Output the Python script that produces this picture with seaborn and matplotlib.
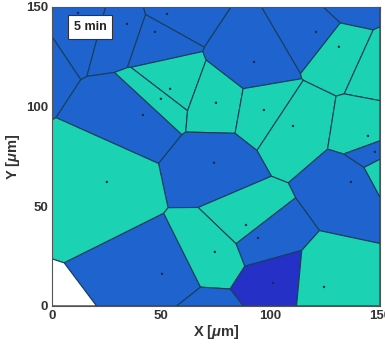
import numpy as np
import pandas as pd
import matplotlib
matplotlib.use("Agg")
import matplotlib.pyplot as plt
import seaborn as sns
from matplotlib.ticker import MultipleLocator

# Grain seeds (µm) and the phase of each grain
seed_x = [11.9, 34.3, 47.1, 52.6, -16.0, 136.5, 41.6, 54.0, 49.8, 92.4,
          120.7, 131.2, 152.0, 75.0, 96.9, 110.2, 144.5, 147.7, 152.0, 74.1,
          25.1, 50.3, 136.7, 88.7, 94.2, 74.5, 101.1, 124.4, 72.0, -5.5]
seed_y = [147.0, 141.5, 137.5, 146.5, 130.0, 153.0, 95.8, 108.9, 103.9, 122.4,
          137.5, 130.0, 121.4, 101.9, 98.3, 90.3, 85.3, 77.3, 69.7, 71.8,
          62.2, 16.1, 62.2, 40.6, 34.1, 27.1, 11.5, 9.5, -9.0, -22.1]
seed_phase = ["a", "a", "a", "a", "a", "a", "a", "b", "b", "a",
              "a", "b", "b", "b", "b", "b", "b", "a", "b", "a",
              "b", "a", "a", "b", "a", "b", "c", "b", "a", "none"]

phase_colors = {"a": "#1F63CF", "b": "#1BD3B3", "c": "#2430C6", "none": "#FFFFFF"}

x_ticks = [0, 50, 100, 150]
y_ticks = [0, 50, 100, 150]
label_time = "5 min"

LO, HI = 0.0, 150.0


def clip_halfplane(poly, normal, offset):
    """Keep the part of poly where dot(p, normal) <= offset."""
    out = []
    n = len(poly)
    for k in range(n):
        p = poly[k]
        q = poly[(k + 1) % n]
        dp = p @ normal - offset
        dq = q @ normal - offset
        if dp <= 0:
            out.append(p)
        if dp * dq < 0:
            t = dp / (dp - dq)
            out.append(p + t * (q - p))
    return out


def voronoi_cells(xs, ys):
    pts = np.column_stack([xs, ys]).astype(float)
    box = [np.array([LO, LO]), np.array([HI, LO]), np.array([HI, HI]), np.array([LO, HI])]
    cells = []
    for i, pi in enumerate(pts):
        poly = list(box)
        for j, pj in enumerate(pts):
            if i == j or not poly:
                continue
            normal = pj - pi
            offset = normal @ ((pi + pj) / 2)
            poly = clip_halfplane(poly, normal, offset)
        cells.append(np.array(poly) if len(poly) >= 3 else None)
    return cells


df = pd.DataFrame({"x": seed_x, "y": seed_y, "phase": seed_phase})
cells = voronoi_cells(df["x"], df["y"])

sns.set_theme(style="white")
plt.rcParams["font.family"] = ["Liberation Sans", "DejaVu Sans"]
plt.rcParams["mathtext.fontset"] = "custom"
plt.rcParams["mathtext.it"] = "Liberation Sans:italic:bold"
plt.rcParams["mathtext.rm"] = "Liberation Sans:bold"

fig = plt.figure(figsize=(3.85, 3.48), dpi=100)
ax = fig.add_axes([0.135, 0.121, 0.852, 0.859])

for cell, phase in zip(cells, df["phase"]):
    if cell is None:
        continue
    ax.fill(cell[:, 0], cell[:, 1], facecolor=phase_colors[phase],
            edgecolor="#173F5C", linewidth=0.8, zorder=1)

sns.scatterplot(data=df, x="x", y="y", ax=ax, color="#1A2A55", s=3,
                edgecolor="none", legend=False, zorder=2)

ax.set_xlim(LO, HI)
ax.set_ylim(LO, HI)
ax.set_xticks(x_ticks)
ax.set_yticks(y_ticks)
ax.xaxis.set_minor_locator(MultipleLocator(10))
ax.yaxis.set_minor_locator(MultipleLocator(10))
ax.tick_params(which="both", direction="in", top=True, right=True,
               color="#555555", labelsize=9.5, pad=3)
ax.tick_params(which="major", length=3, width=0.8)
ax.tick_params(which="minor", length=1.8, width=0.6)
for lab in ax.get_xticklabels() + ax.get_yticklabels():
    lab.set_fontweight("bold")
    lab.set_color("#333333")
for sp in ax.spines.values():
    sp.set_color("#555555")
    sp.set_linewidth(0.8)

ax.set_xlabel(r"X [$\mathit{\mu}$m]", fontsize=10.5, fontweight="bold",
              color="#333333", labelpad=1)
ax.set_ylabel(r"Y [$\mathit{\mu}$m]", fontsize=10.5, fontweight="bold",
              color="#333333", labelpad=3)

ax.text(0.116, 0.933, label_time, transform=ax.transAxes, fontsize=9,
        fontweight="bold", color="#222222", ha="center", va="center", zorder=5,
        bbox=dict(boxstyle="square,pad=0.45", facecolor="white",
                  edgecolor="#333333", linewidth=0.8))

fig.savefig("out.png", dpi=100)
